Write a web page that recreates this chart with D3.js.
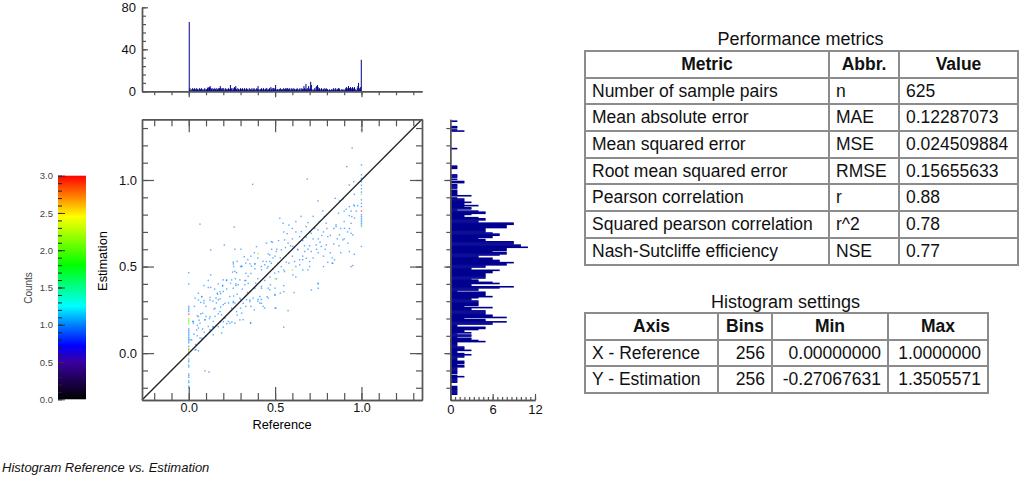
<!DOCTYPE html>
<html>
<head>
<meta charset="utf-8">
<script src="https://d3js.org/d3.v7.min.js"></script>
<style>
  html, body { margin: 0; padding: 0; background: #fff; overflow: hidden; }
  body { width: 1024px; height: 478px; position: relative; font-family: "Liberation Sans", Arial, sans-serif; color: #111; }
  svg { position: absolute; left: 0; top: 0; }
  .tick text { font-family: "Liberation Sans", Arial, sans-serif; fill: #111; }
  .title { position: absolute; font-size: 18px; text-align: center; line-height: 18px; }
  table { position: absolute; border-collapse: collapse; table-layout: fixed; font-size: 17.5px; }
  td, th { border: 2px solid #8c8c8c; padding: 0 6px; height: 24.7px; overflow: hidden; white-space: nowrap; }
  th { text-align: center; }
  .num { text-align: right; }
  #caption { position: absolute; left: 2px; top: 460px; font-size: 13px; font-style: italic; }
</style>
</head>
<body>
<svg id="chart" width="1024" height="478"></svg>
<div class="title" style="left:584px;width:433px;top:30px">Performance metrics</div>
<table id="metrics" style="left:584px;top:50px;width:433px"></table>
<div class="title" style="left:584px;width:403px;top:293px">Histogram settings</div>
<table id="settings" style="left:584px;top:312px;width:403px"></table>
<div id="caption">Histogram Reference vs. Estimation</div>
<script>
  // histogram of the reference, 256 bins over 0..1
  const refHist = [
    66,3,1,2,0,3,2,2,3,2,1,3,2,2,1,3,
    2,2,3,1,2,1,2,3,1,2,2,3,4,3,4,5,
    3,2,3,1,2,3,2,2,3,1,2,3,2,3,5,3,
    2,3,1,3,1,2,3,2,1,2,3,2,2,6,2,3,
    1,3,2,4,3,5,2,1,3,2,2,1,3,2,2,3,
    1,2,3,2,1,3,2,2,1,3,1,2,2,3,1,2,
    3,2,1,2,3,2,5,2,1,2,2,3,1,2,3,2,
    1,2,3,3,1,2,2,3,1,4,2,3,1,3,2,3,
    6,1,2,2,1,2,2,3,1,2,2,1,3,2,2,3,
    2,3,3,2,2,3,1,2,3,2,1,3,2,2,1,2,
    3,2,1,2,3,1,2,3,2,2,5,3,2,7,2,3,
    1,5,2,3,9,6,2,1,1,2,3,1,4,5,6,4,
    2,3,1,2,3,2,1,2,3,1,2,3,2,2,1,1,
    2,1,1,2,1,2,3,1,2,3,1,2,2,3,3,2,
    1,1,2,1,2,1,1,2,3,4,2,3,5,3,3,4,
    2,3,4,2,3,4,2,1,1,3,5,8,3,2,4,30
  ];

  // histogram of the estimation, 256 bins from min to max, bottom first
  const estHist = [
    0,0,0,0,0,1,1,1,1,1,1,1,1,0,0,0,
    1,1,1,1,1,2,1,0,1,1,1,1,1,1,2,2,
    1,2,2,2,1,1,1,2,2,3,2,1,1,3,2,2,
    2,1,1,1,1,5,4,3,3,1,3,3,1,3,2,2,
    4,5,5,1,1,6,6,8,5,5,2,8,6,6,5,5,
    5,5,3,3,6,2,4,4,4,4,4,3,3,4,6,5,
    5,5,5,1,4,4,7,9,3,3,7,6,4,4,3,5,
    5,5,5,5,6,6,7,3,3,5,5,8,8,9,7,7,
    6,6,4,4,7,8,8,6,8,8,8,11,10,10,9,9,
    9,5,5,4,6,6,7,7,6,5,5,5,5,8,8,8,
    9,9,4,4,5,5,4,2,2,3,5,5,4,1,3,3,
    2,4,2,2,3,2,2,2,1,0,3,1,1,1,1,1,
    0,1,1,1,1,0,2,2,0,1,0,1,1,1,0,0,
    0,0,0,1,1,1,0,0,0,0,0,0,0,0,0,0,
    0,0,0,0,0,1,0,0,0,0,0,0,0,0,0,0,
    0,0,0,0,0,2,1,0,1,1,0,0,0,0,1,0
  ];

  // scatter cells holding one sample
  const pointsRef = [
    .127,.113,.088,.113,.127,.196,.167,.185,.158,.181,.123,.037,.075,.069,.088,.033,.146,.185,.171,.19,
    .1,.152,.05,.069,.027,.056,.094,.113,.142,.181,.229,.267,.21,.248,.267,.296,.258,.335,.373,.412,
    .431,.354,.306,.315,.358,.412,.46,.498,.469,.421,.383,.354,.325,.296,.258,.273,.219,.2,.242,.254,
    .267,.306,.344,.383,.421,.454,.488,.508,.504,.142,.065,.123,.19,.008,.042,.056,.094,.117,.023,.065,
    .2,.238,.287,.388,.473,.498,.171,.03,.05,.08,.09,.1,.06,.04,.05,.12,.14,.16,.2,.22,
    .25,.28,.3,.33,.36,.38,.4,.42,.44,.28,.31,.34,.3,.26,.23,.2,.16,.14,.1,.08,
    .06,.15,.17,.22,.27,.33,.36,.4,.44,.47,.52,.55,.58,.5,.5,.5,.575,.55,.61,.75,
    .75,.71,.94,.83,.55,.53,.55,.686,.955,.748,.848,.873,.892,.959,.93,.527,.546,.777,.786,.69,
    .68,.748,.796,.853,.867,.911,.93,.955,.978,.93,.944,.757,.709,.642,.652,.555,.575,.603,.45,.478,
    .507,.536,.469,.45,.478,.517,.536,.565,.613,.642,.642,.68,.7,.709,.671,.632,.767,.805,.873,.892,
    .853,.902,.94,.95,.921,.93,.959,.844,.834,.796,.738,.69,.603,.748,.95,.805,.459,.555,.6,.62,
    .66,.68,.63,.58,.6,.66,.7,.72,.75,.78,.8,.82,.84,.86,.88,.9,.92,.94,.7,.73,
    .76,.79,.82,.78,.72,.75,.48,.5,.53,.56,.59,.52,.55,.58,.62,.65,.72,.37,.263,.206,
    .127,.065,.946,.915,.392,.485,.267,.302,.321,.342,.258,.354,.383,.44,.46,.488,
    .056,.075,.088,.123,.165,.181,.196,.219,.248,.273,.325,.344,.363,.383,.306,.258,.277,.331,.421,.46,
    .402,.421,.454,.358,.296,.238,.277,.315,.354,.258,.21,.181,.152,.123,.094,.056,.027,.046,.075,.017,
    .037,.123,.142,.171,.2,.056,.57,.6,.64,.67,.69,.74,.77,.84,.87,.9,.93,.96,.97,.96,
    .94,.9,.51,.47,.42,.43,.4,.38,.36,.33,.3,.28,.26,.62,.66,.7,.78,.83,.88,.62,.66
  ];
  const pointsEst = [
    .452,.42,.39,.379,.379,.391,.341,.343,.318,.314,.322,.318,.327,.293,.289,.27,.254,.266,.227,.222,
    .212,.212,.216,.227,.183,.145,.193,.154,.183,.179,.183,.173,.202,.26,.289,.318,.298,.308,.318,.327,
    .27,.298,.231,.193,.173,.289,.318,.337,.366,.385,.375,.356,.395,.423,.375,.391,.423,.423,.404,.468,
    .472,.5,.443,.487,.481,.491,.487,.429,.26,.106,.087,.135,.116,.077,.02,.014,-.102,-.109,.183,.173,
    .356,.327,.395,.404,.395,.462,.308,.11,.16,.14,.12,.1,.06,.05,.1,.2,.15,.16,.15,.17,
    .18,.22,.26,.27,.27,.25,.3,.31,.26,.34,.37,.35,.31,.33,.29,.28,.29,.3,.27,.23,
    .19,.37,.4,.37,.43,.42,.46,.43,.42,.44,.47,.48,.52,.375,.336,.26,.245,.15,.35,.4,
    .375,.365,.5,.52,.39,.346,.355,1.006,.99,.879,.894,.879,.89,.917,.971,.779,.75,.821,.789,.754,
    .731,.712,.75,.741,.808,.831,.846,.856,.852,.794,.789,.76,.692,.673,.702,.654,.635,.616,.635,.644,
    .587,.596,.567,.529,.519,.519,.5,.525,.529,.539,.51,.548,.529,.587,.587,.596,.616,.673,.683,.654,
    .731,.721,.692,.683,.635,.587,.571,.539,.519,.625,.625,.481,.452,.404,.506,.525,.5,.471,.66,.7,
    .65,.67,.6,.58,.56,.56,.62,.66,.66,.7,.72,.68,.63,.66,.72,.76,.7,.75,.7,.72,
    .64,.6,.58,.56,.55,.58,.6,.56,.55,.61,.62,.65,.7,.74,.76,.79,.79,.975,.728,.624,
    .596,.745,1.185,1.077,.615,.64,.6,.6,.557,.54,.525,.516,.516,.51,.573,.55,
    .346,.326,.303,.307,.346,.355,.388,.419,.423,.4,.419,.403,.503,.515,.503,.515,.465,.461,.375,.375,
    .311,.288,.326,.176,.192,.173,.24,.288,.307,.292,.288,.24,.259,.211,.192,.211,.173,.134,.086,.076,
    .019,.125,.153,.153,.182,.307,.69,.72,.64,.62,.6,.6,.68,.72,.62,.66,.72,.78,.82,.85,
    .82,.82,.6,.53,.5,.53,.55,.58,.56,.52,.5,.53,.5,.5,.48,.5,.5,.55,.58,.44,.54
  ];

  // piled up columns at reference 0 and reference 1 (single counts)
  const zeroColumnEst = [.465,.40,.27,.26,.25,.24,.14,.13,.12,.11,.10,.09,.08,.07,.06,.04,-.01,-.04,-.05,-.07,-.08,-.12,-.13,-.14,-.16,-.17,-.19,-.20];
  const oneColumnEst = [1.31,1.29,1.087,1.03,1.01,.99,.97,.95,.93,.885,.865,.846,.80,.79,.78,.77,.76,.75,.74,.616];

  // cells holding two and three samples
  const doubleRef = [0,0,0,0,0,0,0,1,1,.402,.5,.6];
  const doubleEst = [.20,.19,.18,.17,.03,.01,-.03,.917,.73,.575,.43,.48];
  const tripleRef = [0,0,0,1];
  const tripleEst = [.225,.02,0,.821];

  const colorStops = [0, .5, .72, 1, 1.25, 1.8, 2.45, 3];
  const colorValues = ['#000000', '#3a00a0', '#0000ff', '#0080ff', '#00ffff', '#00ff00', '#ffff00', '#ff0000'];

  const metricNames = ['Number of sample pairs', 'Mean absolute error', 'Mean squared error', 'Root mean squared error', 'Pearson correlation', 'Squared pearson correlation', 'Nash-Sutcliffe efficiency'];
  const metricAbbr = ['n', 'MAE', 'MSE', 'RMSE', 'r', 'r^2', 'NSE'];
  const metricValues = ['625', '0.12287073', '0.024509884', '0.15655633', '0.88', '0.78', '0.77'];

  const axisNames = ['X - Reference', 'Y - Estimation'];
  const axisBins = ['256', '256'];
  const axisMin = ['0.00000000', '-0.27067631'];
  const axisMax = ['1.0000000', '1.3505571'];

  const yMin = -0.27067631, yMax = 1.3505571;
  const binX = 1 / 256, binY = (yMax - yMin) / 256;

  const svg = d3.select('#chart');
  const color = d3.scaleLinear().domain(colorStops).range(colorValues);

  const x = d3.scaleLinear().domain([yMin, yMax]).range([142, 422]);
  const y = d3.scaleLinear().domain([yMin, yMax]).range([400, 119.3]);
  const topY = d3.scaleLinear().domain([0, 80]).range([91.3, 7.3]);
  const sideX = d3.scaleLinear().domain([0, 12]).range([450.3, 535]);
  const barY = d3.scaleLinear().domain([0, 3]).range([399.3, 175.7]);

  const minorTicks = d3.range(-2, 14).map(d => d / 10);
  const majorTicks = [0, 0.5, 1];
  const fmt = d3.format('.1f');

  // draws one axis twice: unlabelled minor ticks, then labelled major ticks
  function drawAxis(maker, scale, pos, minor, major, minorLen, majorLen, format, size, padding) {
    const g = svg.append('g').attr('transform', pos);
    const add = (values, len, f) => {
      const a = g.append('g').call(maker(scale).tickValues(values).tickSizeOuter(0).tickSizeInner(len).tickPadding(padding).tickFormat(f));
      a.selectAll('line').attr('stroke', '#555').attr('stroke-width', 1.2);
      a.select('.domain').attr('stroke', '#555').attr('stroke-width', 1.4);
      a.selectAll('text').style('font-size', size + 'px');
    };
    add(minor, minorLen, () => '');
    add(major, majorLen, format);
  }

  // top histogram
  svg.append('g').selectAll('rect').data(refHist).join('rect')
    .attr('x', (d, i) => x(i * binX))
    .attr('width', 1)
    .attr('y', d => topY(d))
    .attr('height', d => topY(0) - topY(d))
    .attr('fill', '#000090');
  drawAxis(d3.axisLeft, topY, 'translate(142,0)', d3.range(0, 81, 8), [0, 40, 80], -4, -6, d3.format('d'), 13, 6);
  drawAxis(d3.axisBottom, x, 'translate(0,91.3)', minorTicks, majorTicks, 4, 6, () => '', 11, 3);

  // side histogram
  svg.append('g').selectAll('rect').data(estHist).join('rect')
    .attr('x', sideX(0))
    .attr('width', d => sideX(d) - sideX(0))
    .attr('y', (d, i) => y(yMin + (i + 1) * binY))
    .attr('height', 1.6)
    .attr('fill', '#000090');
  drawAxis(d3.axisLeft, y, 'translate(450.3,0)', minorTicks, majorTicks, 4, 6, () => '', 11, 3);
  drawAxis(d3.axisBottom, sideX, 'translate(0,400)', d3.range(0, 12.01, 2 / 3), [0, 6, 12], -3, -6, d3.format('d'), 13, 5);

  // scatter cells
  const cells = [
    ...pointsRef.map((d, i) => [d, pointsEst[i], 1]),
    ...zeroColumnEst.map(d => [0, d, 1]),
    ...oneColumnEst.map(d => [1, d, 1]),
    ...doubleRef.map((d, i) => [d, doubleEst[i], 2]),
    ...tripleRef.map((d, i) => [d, tripleEst[i], 3])
  ];
  svg.append('g').selectAll('rect').data(cells).join('rect')
    .attr('x', d => x(d[0]) - 0.7)
    .attr('y', d => y(d[1]) - 0.7)
    .attr('width', 1.4)
    .attr('height', 1.4)
    .attr('fill', d => color(d[2]))
    .attr('fill-opacity', 0.65);

  svg.append('line')
    .attr('x1', x(yMin)).attr('y1', y(yMin))
    .attr('x2', x(yMax)).attr('y2', y(yMax))
    .attr('stroke', '#222').attr('stroke-width', 1.3);

  drawAxis(d3.axisBottom, x, 'translate(0,400)', minorTicks, majorTicks, -7, -13, fmt, 12.5, 3);
  drawAxis(d3.axisTop, x, 'translate(0,119.3)', minorTicks, majorTicks, -7, -13, () => '', 11, 3);
  drawAxis(d3.axisLeft, y, 'translate(142,0)', minorTicks, majorTicks, -6, -12, fmt, 13, 5);
  drawAxis(d3.axisRight, y, 'translate(422,0)', minorTicks, majorTicks, -6, -12, () => '', 11, 3);

  svg.append('text').attr('x', 282).attr('y', 429).attr('text-anchor', 'middle').attr('font-size', 12.8).text('Reference');
  svg.append('text').attr('transform', 'translate(107,261) rotate(-90)').attr('text-anchor', 'middle').attr('font-size', 12.8).text('Estimation');

  // colour bar
  const grad = svg.append('defs').append('linearGradient').attr('id', 'bar')
    .attr('x1', 0).attr('y1', 1).attr('x2', 0).attr('y2', 0);
  grad.selectAll('stop').data(colorStops).join('stop')
    .attr('offset', d => d / 3)
    .attr('stop-color', d => color(d));
  svg.append('rect')
    .attr('x', 58).attr('width', 28)
    .attr('y', barY(3)).attr('height', barY(0) - barY(3))
    .attr('fill', 'url(#bar)');
  const barAxis = svg.append('g').attr('transform', 'translate(58,0)');
  barAxis.append('g').call(d3.axisLeft(barY).tickValues(d3.range(0, 30.5, 1).map(d => d / 10)).tickSizeOuter(0).tickSizeInner(-4).tickFormat(() => ''))
    .call(g => g.select('.domain').remove())
    .selectAll('line').attr('stroke', '#222');
  barAxis.append('g').call(d3.axisLeft(barY).tickValues(d3.range(0, 6.5, 1).map(d => d / 2)).tickSizeOuter(0).tickSizeInner(-7).tickPadding(5).tickFormat(fmt))
    .call(g => g.select('.domain').remove())
    .call(g => g.selectAll('line').attr('stroke', '#333'))
    .call(g => g.selectAll('text').style('font-size', '9.5px').style('fill', '#444'));
  svg.append('text').attr('transform', 'translate(32,288) rotate(-90)').attr('text-anchor', 'middle').attr('font-size', 10).attr('fill', '#444').text('Counts');

  // tables
  function fillTable(sel, widths, head, columns, numeric) {
    sel.append('colgroup').selectAll('col').data(widths).join('col').style('width', d => d + 'px');
    sel.append('tr').selectAll('th').data(head).join('th').text(d => d);
    sel.selectAll('tr.row').data(columns[0]).join('tr').attr('class', 'row')
      .selectAll('td').data((d, i) => columns.map(c => c[i])).join('td')
      .attr('class', (d, i) => numeric[i] ? 'num' : null)
      .text(d => d);
  }
  fillTable(d3.select('#metrics'), [244, 70, 119], ['Metric', 'Abbr.', 'Value'],
    [metricNames, metricAbbr, metricValues], [false, false, false]);
  fillTable(d3.select('#settings'), [133, 54, 116, 100], ['Axis', 'Bins', 'Min', 'Max'],
    [axisNames, axisBins, axisMin, axisMax], [false, true, true, true]);
</script>
</body>
</html>
